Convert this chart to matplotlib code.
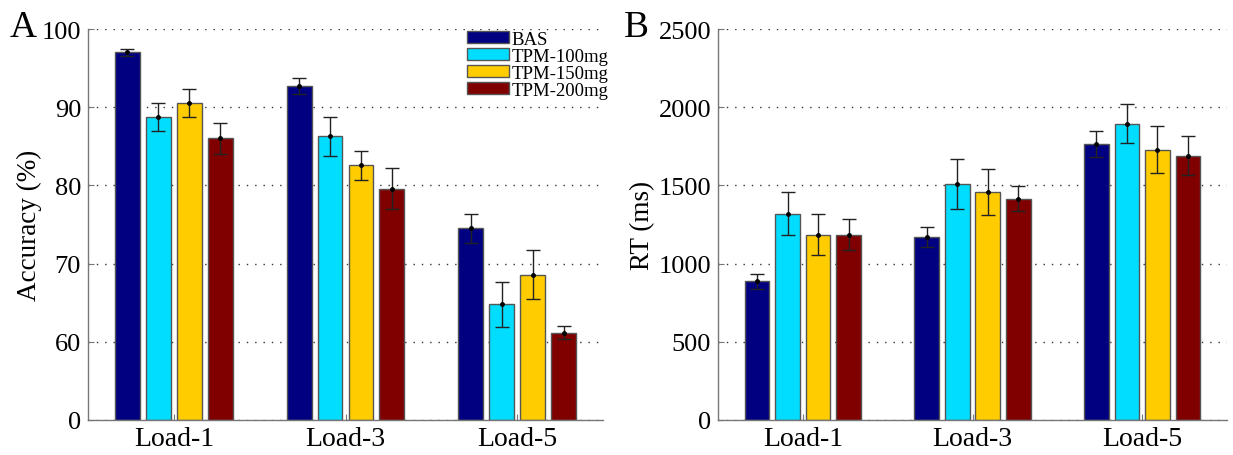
import matplotlib.pyplot as plt
import numpy as np

plt.rcParams['font.family'] = ['Liberation Serif', 'DejaVu Serif']

loads = ['Load-1', 'Load-3', 'Load-5']
groups = ['BAS', 'TPM-100mg', 'TPM-150mg', 'TPM-200mg']
colors = ['#000080', '#00DDFF', '#FFCC00', '#800000']

# accuracy (%) per group, one value per load
acc_bas = [97.0, 92.7, 74.5]
acc_100 = [88.7, 86.3, 64.8]
acc_150 = [90.55, 82.6, 68.6]
acc_200 = [86.0, 79.6, 61.15]
acc_bas_err = [0.4, 1.0, 1.85]
acc_100_err = [1.8, 2.5, 2.9]
acc_150_err = [1.8, 1.85, 3.15]
acc_200_err = [2.0, 2.65, 0.85]

# reaction time (ms)
rt_bas = [886, 1171, 1762]
rt_100 = [1318, 1511, 1894]
rt_150 = [1186, 1456, 1728]
rt_200 = [1186, 1416, 1690]
rt_bas_err = [47, 66, 83]
rt_100_err = [138, 160, 126]
rt_150_err = [132, 148, 151]
rt_200_err = [98, 81, 123]

# panel A has a broken axis: the "0" tick sits where 50 would be
acc_ticks = [50, 60, 70, 80, 90, 100]
acc_ticklabels = ['0', '60', '70', '80', '90', '100']
rt_ticks = [0, 500, 1000, 1500, 2000, 2500]


def draw_panel(ax, means, errs, bottom, ticks, ticklabels, ylabel):
    x = np.arange(1, len(loads) + 1)
    step, width = 0.18, 0.145
    for i, (m, e) in enumerate(zip(means, errs)):
        xs = x + (i - 1.5) * step
        heights = np.array(m) - bottom
        ax.bar(xs, heights, width, bottom=bottom, color=colors[i],
               edgecolor='#555555', linewidth=1.0, label=groups[i], zorder=2)
        ax.errorbar(xs, m, yerr=e, fmt='o', color='black', ecolor='#222222',
                    markersize=2.5, elinewidth=1.0, capsize=5, capthick=1.0,
                    zorder=3)
    ax.set_xlim(0.5, 3.5)
    ax.set_ylim(ticks[0], ticks[-1])
    ax.set_xticks(x)
    ax.set_xticklabels(loads, fontsize=20)
    ax.set_yticks(ticks)
    ax.set_yticklabels(ticklabels, fontsize=19)
    ax.set_ylabel(ylabel, fontsize=19.5)
    ax.yaxis.grid(True, linestyle=(0, (1, 5)), color='#333333', linewidth=1.0)
    ax.set_axisbelow(True)
    for side in ['top', 'right']:
        ax.spines[side].set_visible(False)
    for side in ['left', 'bottom']:
        ax.spines[side].set_color('#777777')
        ax.spines[side].set_linewidth(1.0)
    ax.tick_params(axis='both', direction='in', length=4, color='#777777')
    ax.tick_params(axis='y', pad=5)
    ax.tick_params(axis='x', pad=4)


fig = plt.figure(figsize=(12.33, 4.56), dpi=100)
axA = fig.add_axes([88 / 1233, 35 / 456, 515 / 1233, 391 / 456])
axB = fig.add_axes([718 / 1233, 35 / 456, 509 / 1233, 391 / 456])

draw_panel(axA, [acc_bas, acc_100, acc_150, acc_200],
           [acc_bas_err, acc_100_err, acc_150_err, acc_200_err],
           50, acc_ticks, acc_ticklabels, 'Accuracy (%)')
draw_panel(axB, [rt_bas, rt_100, rt_150, rt_200],
           [rt_bas_err, rt_100_err, rt_150_err, rt_200_err],
           0, rt_ticks, [str(t) for t in rt_ticks], 'RT (ms)')

axA.yaxis.set_label_coords(-0.09, 0.5)
axB.yaxis.set_label_coords(-0.124, 0.5)

axA.legend(loc='upper right', bbox_to_anchor=(1.01, 0.995), fontsize=13.5,
           frameon=False, handlelength=2.25, handleheight=0.6,
           handletextpad=0.1, labelspacing=0.0, borderpad=0.0,
           borderaxespad=0.0)

fig.text(10 / 1233, 1 - 37 / 456, 'A', fontsize=27, ha='left', va='baseline')
fig.text(624 / 1233, 1 - 37 / 456, 'B', fontsize=27, ha='left', va='baseline')

fig.savefig('out.png', dpi=100)
